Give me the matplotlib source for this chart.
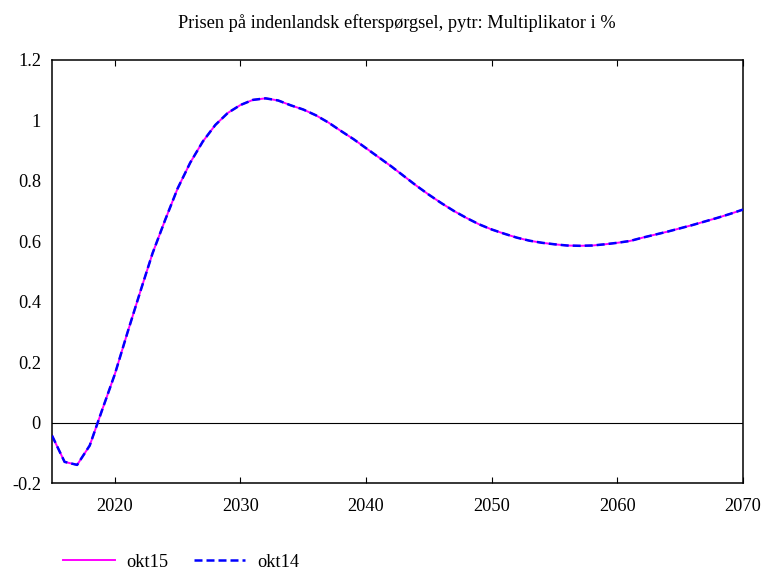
import matplotlib
matplotlib.use("Agg")
import matplotlib.pyplot as plt

plt.rcParams['font.family'] = ['Liberation Serif', 'DejaVu Serif']

# multiplikator i %, årlige værdier 2015-2070
years = list(range(2015, 2071))
okt15 = [-0.043, -0.130, -0.140, -0.076, 0.043, 0.160, 0.297, 0.430, 0.560, 0.670,
         0.775, 0.860, 0.930, 0.985, 1.025, 1.051, 1.068, 1.073, 1.066, 1.050,
         1.036, 1.017, 0.993, 0.965, 0.938, 0.908, 0.878, 0.848, 0.816, 0.784,
         0.754, 0.726, 0.700, 0.677, 0.656, 0.639, 0.625, 0.612, 0.602, 0.595,
         0.590, 0.586, 0.585, 0.586, 0.590, 0.595, 0.601, 0.612, 0.622, 0.632,
         0.643, 0.654, 0.666, 0.678, 0.691, 0.705]
okt14 = list(okt15)

title = 'Prisen på indenlandsk efterspørgsel, pytr: Multiplikator i %'
xticks = [2020, 2030, 2040, 2050, 2060, 2070]
yticks = [-0.2, 0, 0.2, 0.4, 0.6, 0.8, 1, 1.2]
yticklabels = ['-0.2', '0', '0.2', '0.4', '0.6', '0.8', '1', '1.2']

fs = 13.2

fig = plt.figure(figsize=(7.66, 5.69), dpi=100)
ax = fig.add_axes([0.0679, 0.1511, 0.9021, 0.7435])

ax.axhline(0, color='black', lw=0.8, zorder=1)
ax.plot(years, okt15, color='#ff00ff', lw=1.4, label='okt15', zorder=2)
ax.plot(years, okt14, color='#0000ff', lw=1.8, dashes=(3.2, 1.6), label='okt14', zorder=3)

ax.set_xlim(2015, 2070)
ax.set_ylim(-0.2, 1.2)
ax.set_xticks(xticks)
ax.set_yticks(yticks)
ax.set_yticklabels(yticklabels)
ax.tick_params(axis='x', direction='in', length=4, width=0.8, top=True, pad=11, labelsize=fs)
ax.tick_params(axis='y', length=0, pad=8, labelsize=fs)
for s in ax.spines.values():
    s.set_linewidth(1.1)

fig.text(0.5183, 0.9596, title, ha='center', va='center', fontsize=fs)

fig.legend(loc='center left', bbox_to_anchor=(0.0606, 0.0123), ncol=2, frameon=False,
           fontsize=fs, handlelength=2.82, handletextpad=0.64, columnspacing=1.37)

fig.savefig('out.png', dpi=100)
